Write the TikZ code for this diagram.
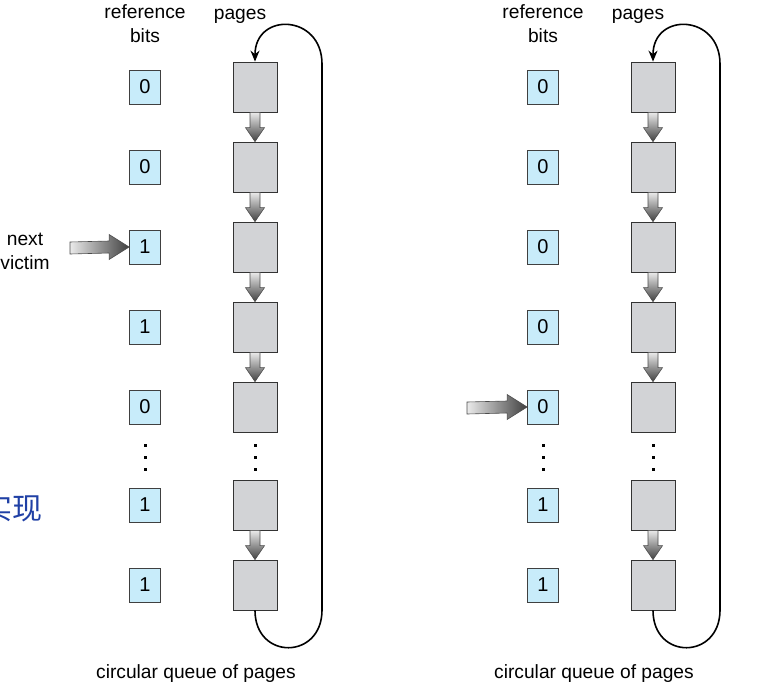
\documentclass[tikz,border=0pt]{standalone}
\usepackage{fontspec}
\setmainfont{Liberation Sans}
\newfontfamily\cjkfont{Noto Sans CJK SC}
\usetikzlibrary{arrows.meta,calc}

\definecolor{bitfill}{RGB}{200,236,250}
\definecolor{pagefill}{RGB}{210,211,214}
\definecolor{cjkblue}{RGB}{32,64,165}

\tikzset{
	bitbox/.style={draw=black!75, line width=0.8pt, fill=bitfill, minimum width=31pt, minimum height=34pt, inner sep=0pt, font=\fontsize{20}{20}\selectfont},
	pagebox/.style={draw=black!80, line width=0.8pt, fill=pagefill, minimum width=44pt, minimum height=50pt, inner sep=0pt},
	caption/.style={inner sep=0pt, align=center, font=\fontsize{19.2}{24}\selectfont},
	linkarrow/.style={draw=black!70, line width=0.6pt, top color=black!8, bottom color=black!75},
	ptrarrow/.style={draw=black!70, line width=0.6pt, left color=black!8, right color=black!75},
	loopline/.style={line width=1.6pt, -{Stealth[length=11pt,width=9pt]}}
}

% fat arrow from one page to the next
\newcommand{\pagelink}[2]{%
	\shadedraw[linkarrow] ($(#1.south)+(-5,0)$) -- ($(#2.north)+(-5,-14)$) -- ($(#2.north)+(-9.5,-14)$)
	-- (#2.north) -- ($(#2.north)+(9.5,-14)$) -- ($(#2.north)+(5,-14)$) -- ($(#1.south)+(5,0)$) -- cycle;}
% fat pointer to a reference bit
\newcommand{\victimptr}[2]{%
	\shadedraw[ptrarrow] ($(#1)+(0,-6)$) -- ($(#2.west)+(-20,-6)$) -- ($(#2.west)+(-20,-12.5)$)
	-- (#2.west) -- ($(#2.west)+(-20,12.5)$) -- ($(#2.west)+(-20,6)$) -- ($(#1)+(0,6)$) -- cycle;}

\begin{document}
\begin{tikzpicture}[x=1pt, y=-1pt]
	\useasboundingbox (0,0) rectangle (762,691);
	
	% bits and pages, both snapshots
	\foreach \i/\y/\lbit/\rbit in {1/87/0/0, 2/167/0/0, 3/247/1/0, 4/327/1/0, 5/407/0/0, 6/505/1/1, 7/585/1/1} {
		\node[bitbox] (lb\i) at (145,\y) {\lbit};
		\node[pagebox] (lp\i) at (255,\y) {};
		\node[bitbox] (rb\i) at (543,\y) {\rbit};
		\node[pagebox] (rp\i) at (653,\y) {};
	}
	
	\foreach \a/\b in {1/2, 2/3, 3/4, 4/5, 6/7} {
		\pagelink{lp\a}{lp\b}
		\pagelink{rp\a}{rp\b}
	}
	
	% elided entries
	\foreach \x in {145,255,543,653}
		\foreach \y in {445,457,469}
			\fill (\x-1.5,\y-1.5) rectangle +(3,3);
	
	% wrap-around of the queue
	\coordinate (lbot) at (322,610);
	\coordinate (ltop) at (322,64);
	\coordinate (rbot) at (720,610);
	\coordinate (rtop) at (720,64);
	\draw[loopline] (lp7.south) .. controls +(0,50) and +(0,50) .. (lbot) -- (ltop)
		.. controls +(0,-50) and +(0,-50) .. (lp1.north);
	\draw[loopline] (rp7.south) .. controls +(0,50) and +(0,50) .. (rbot) -- (rtop)
		.. controls +(0,-50) and +(0,-50) .. (rp1.north);
	
	% clock hand
	\coordinate (lvictim) at (70,248);
	\coordinate (rvictim) at (467,408);
	\victimptr{lvictim}{lb3}
	\victimptr{rvictim}{rb5}
	
	% labels
	\node[caption] (lrefbits) at (145,24) {reference\\bits};
	\node[caption, anchor=base] (lpages) at (240,19) {pages};
	\node[caption] (rrefbits) at (543,24) {reference\\bits};
	\node[caption, anchor=base] (rpages) at (638,19) {pages};
	\node[caption] (nextvictim) at (25,251) {next\\victim};
	\node[caption] (lqueue) at (196,674) {circular queue of pages};
	\node[caption] (rqueue) at (594,674) {circular queue of pages};
	\node[anchor=east, inner sep=0pt, text=cjkblue, font=\cjkfont\fontsize{30}{30}\selectfont] (impl) at (43,508) {实现};
\end{tikzpicture}
\end{document}
